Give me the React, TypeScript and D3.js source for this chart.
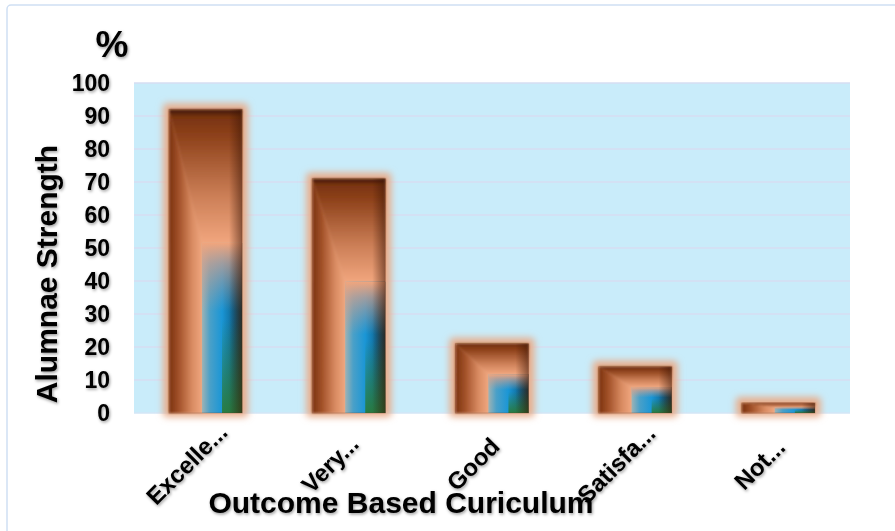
import React from 'react';
import * as d3 from 'd3';

const categories = ['Excelle...', 'Very...', 'Good', 'Satisfa...', 'Not...'];
const values = [92, 71, 21, 14, 3];
const yTicks = [0, 10, 20, 30, 40, 50, 60, 70, 80, 90, 100];

const W = 895;
const H = 531;
const plot = { left: 134, right: 850, top: 83, bottom: 413 };
const FONT = '"Liberation Sans", Arial, Helvetica, sans-serif';

const App: React.FC = () => {
  const x = d3.scaleBand<string>()
    .domain(categories)
    .range([plot.left, plot.right])
    .paddingInner(0.49)
    .paddingOuter(0.245);

  const y = d3.scaleLinear().domain([0, 100]).range([plot.bottom, plot.top]);

  const bars = categories.map((c, i) => {
    const x0 = x(c) || 0;
    const w = x.bandwidth();
    const y0 = y(values[i]);
    const h = plot.bottom - y0;
    const xi = x0 + w * 0.45;
    const yi = y0 + h * 0.44;
    return { c, x0, w, y0, h, xi, yi };
  });

  return (
    <svg width={W} height={H} style={{ position: 'absolute', left: 0, top: 0, background: '#fff' }}>
      <defs>
        <filter id="glow" x="-50%" y="-50%" width="200%" height="200%">
          <feGaussianBlur stdDeviation="3.5" />
        </filter>
        <filter id="soft" x="-10%" y="-10%" width="120%" height="120%">
          <feGaussianBlur stdDeviation="1.2" />
        </filter>
        <filter id="tshadow" x="-20%" y="-20%" width="140%" height="140%">
          <feDropShadow dx="1" dy="1.5" stdDeviation="1.4" floodColor="#000" floodOpacity="0.4" />
        </filter>
        <linearGradient id="gLeft" x1="0" y1="0" x2="1" y2="0">
          <stop offset="0" stopColor="#7a320f" />
          <stop offset="0.3" stopColor="#a3522a" />
          <stop offset="0.7" stopColor="#d98b62" />
          <stop offset="1" stopColor="#efa67e" />
        </linearGradient>
        <linearGradient id="gTop" x1="0" y1="0" x2="0" y2="1">
          <stop offset="0" stopColor="#3e1604" />
          <stop offset="0.06" stopColor="#7a3411" />
          <stop offset="0.2" stopColor="#8e421b" />
          <stop offset="0.65" stopColor="#cc7f57" />
          <stop offset="1" stopColor="#f1a67e" />
        </linearGradient>
        <linearGradient id="gInner" x1="0" y1="0" x2="1" y2="0">
          <stop offset="0" stopColor="#9fb3b4" />
          <stop offset="0.2" stopColor="#4aa0c8" />
          <stop offset="0.5" stopColor="#1a96d6" />
          <stop offset="0.78" stopColor="#0f6a98" />
          <stop offset="1" stopColor="#174a55" />
        </linearGradient>
        <linearGradient id="gInnerTop" x1="0" y1="0" x2="0" y2="1">
          <stop offset="0" stopColor="#f0a57d" stopOpacity="1" />
          <stop offset="0.12" stopColor="#d7a08a" stopOpacity="0.7" />
          <stop offset="0.4" stopColor="#c09c90" stopOpacity="0" />
        </linearGradient>
        <linearGradient id="gGreen" x1="0" y1="0" x2="0" y2="1">
          <stop offset="0.45" stopColor="#2a7a34" stopOpacity="0" />
          <stop offset="1" stopColor="#2a7a34" stopOpacity="0.9" />
        </linearGradient>
        <linearGradient id="gRight" x1="0" y1="0" x2="1" y2="0">
          <stop offset="0.82" stopColor="#3a1404" stopOpacity="0" />
          <stop offset="1" stopColor="#3a1404" stopOpacity="0.55" />
        </linearGradient>
      </defs>

      {/* outer chart border */}
      <rect x={7} y={5} width={W + 20} height={H + 20} rx={4} fill="#fff" stroke="#cfdff3" strokeWidth={1.5} />

      {/* plot area */}
      <rect x={plot.left} y={plot.top} width={plot.right - plot.left} height={plot.bottom - plot.top} fill="#c9ecfa" />
      <line x1={plot.left} x2={plot.right} y1={plot.top} y2={plot.top} stroke="#d6def2" strokeWidth={1.5} />
      {yTicks.filter(t => t > 0 && t < 100).map(t => (
        <line key={t} x1={plot.left} x2={plot.right} y1={y(t)} y2={y(t)} stroke="#ddd5ee" strokeWidth={1.2} />
      ))}
      <line x1={plot.left} x2={plot.right} y1={plot.bottom} y2={plot.bottom} stroke="#d3e6f6" strokeWidth={1.5} />

      {/* bars */}
      {bars.map(b => (
        <g key={b.c}>
          <rect x={b.x0 - 6} y={b.y0 - 6} width={b.w + 12} height={b.h + 10} rx={4} fill="#e8ad8c" filter="url(#glow)" />
          <g filter="url(#soft)">
            <polygon
              points={`${b.x0},${b.y0} ${b.xi},${b.yi} ${b.xi},${b.y0 + b.h} ${b.x0},${b.y0 + b.h}`}
              fill="url(#gLeft)"
            />
            <polygon
              points={`${b.x0},${b.y0} ${b.x0 + b.w},${b.y0} ${b.x0 + b.w},${b.yi} ${b.xi},${b.yi}`}
              fill="url(#gTop)"
            />
          </g>
          <rect x={b.xi} y={b.yi} width={b.x0 + b.w - b.xi} height={b.y0 + b.h - b.yi} fill="url(#gInner)" />
          <rect
            x={b.xi + (b.x0 + b.w - b.xi) * 0.5}
            y={b.yi}
            width={(b.x0 + b.w - b.xi) * 0.5}
            height={b.y0 + b.h - b.yi}
            fill="url(#gGreen)"
          />
          <rect x={b.xi} y={b.yi} width={b.x0 + b.w - b.xi} height={b.y0 + b.h - b.yi} fill="url(#gInnerTop)" />
          <rect x={b.x0} y={b.y0} width={b.w} height={b.h} fill="url(#gRight)" />
          <rect x={b.x0} y={b.y0} width={b.w} height={b.h} fill="none" stroke="#6e2d0e" strokeOpacity={0.35} strokeWidth={0.8} />
        </g>
      ))}

      {/* y tick labels */}
      <g fontFamily={FONT} fontWeight="bold" fontSize={23} fill="#000" filter="url(#tshadow)">
        {yTicks.map(t => (
          <text key={t} x={110} y={y(t)} dy="0.36em" textAnchor="end">{t}</text>
        ))}
      </g>

      {/* x tick labels */}
      <g fontFamily={FONT} fontWeight="bold" fontSize={24} fill="#000" filter="url(#tshadow)">
        {categories.map(c => {
          const cx = (x(c) || 0) + x.bandwidth() / 2 - 13;
          const cy = 470;
          return (
            <text key={c} x={cx} y={cy} textAnchor="middle" transform={`rotate(-45, ${cx}, ${cy})`}>{c}</text>
          );
        })}
      </g>

      {/* titles */}
      <g fontFamily={FONT} fontWeight="bold" fill="#000" filter="url(#tshadow)">
        <text x={112} y={57} fontSize={37} textAnchor="middle">%</text>
        <text x={401} y={513} fontSize={30} textAnchor="middle">Outcome Based Curiculum</text>
        <text transform="translate(57,274) rotate(-90)" fontSize={30} textAnchor="middle">Alumnae Strength</text>
      </g>
    </svg>
  );
};

export default App;
